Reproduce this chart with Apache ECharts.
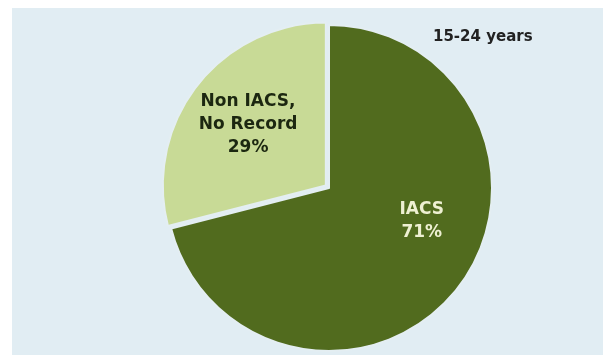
<!DOCTYPE html>
<html>
<head>
<meta charset="utf-8">
<script src="https://cdn.jsdelivr.net/npm/echarts@6/dist/echarts.min.js"></script>
<style>
  html, body { margin: 0; padding: 0; background: #ffffff; }
  #chart { position: absolute; left: 12px; top: 8px; width: 591px; height: 347px; background: #e1edf3; }
</style>
</head>
<body>
<div id="chart"></div>
<script>
// data
const categories = ['IACS', 'Non IACS,\nNo Record'];
const shares = [71, 29];
const sliceColors = ['#516b1e', '#c8da96'];
const labelColors = ['#eef0d2', '#1c2710'];
const ageGroup = '15-24 years';

const chart = echarts.init(document.getElementById('chart'));

// nudge labels a bit from the default "inside" spot
const labelShift = [{ dx: 26, dy: -19 }, { dx: -11, dy: -9 }];

const option = {
  animation: false,
  title: {
    text: ageGroup,
    left: 416,
    top: 17,
    textStyle: { fontFamily: 'DejaVu Sans', fontWeight: 'bold', fontSize: 15, color: '#222222' }
  },
  series: [{
    type: 'pie',
    center: [317, 180],
    radius: 163,
    startAngle: 90,
    clockwise: true,
    selectedMode: 'single',
    selectedOffset: 4,
    avoidLabelOverlap: false,
    itemStyle: { borderColor: '#e4eef2', borderWidth: 2 },
    label: {
      show: true,
      position: 'inside',
      formatter: p => p.name + '\n' + p.value + '%',
      fontFamily: 'DejaVu Sans',
      fontWeight: 'bold',
      fontSize: 17,
      lineHeight: 23,
      align: 'center'
    },
    labelLine: { show: false },
    labelLayout: p => labelShift[p.dataIndex],
    emphasis: { disabled: true },
    data: categories.map((c, i) => ({
      name: c,
      value: shares[i],
      selected: i === 1,
      itemStyle: { color: sliceColors[i] },
      label: { color: labelColors[i] }
    }))
  }]
};

chart.setOption(option);
</script>
</body>
</html>
